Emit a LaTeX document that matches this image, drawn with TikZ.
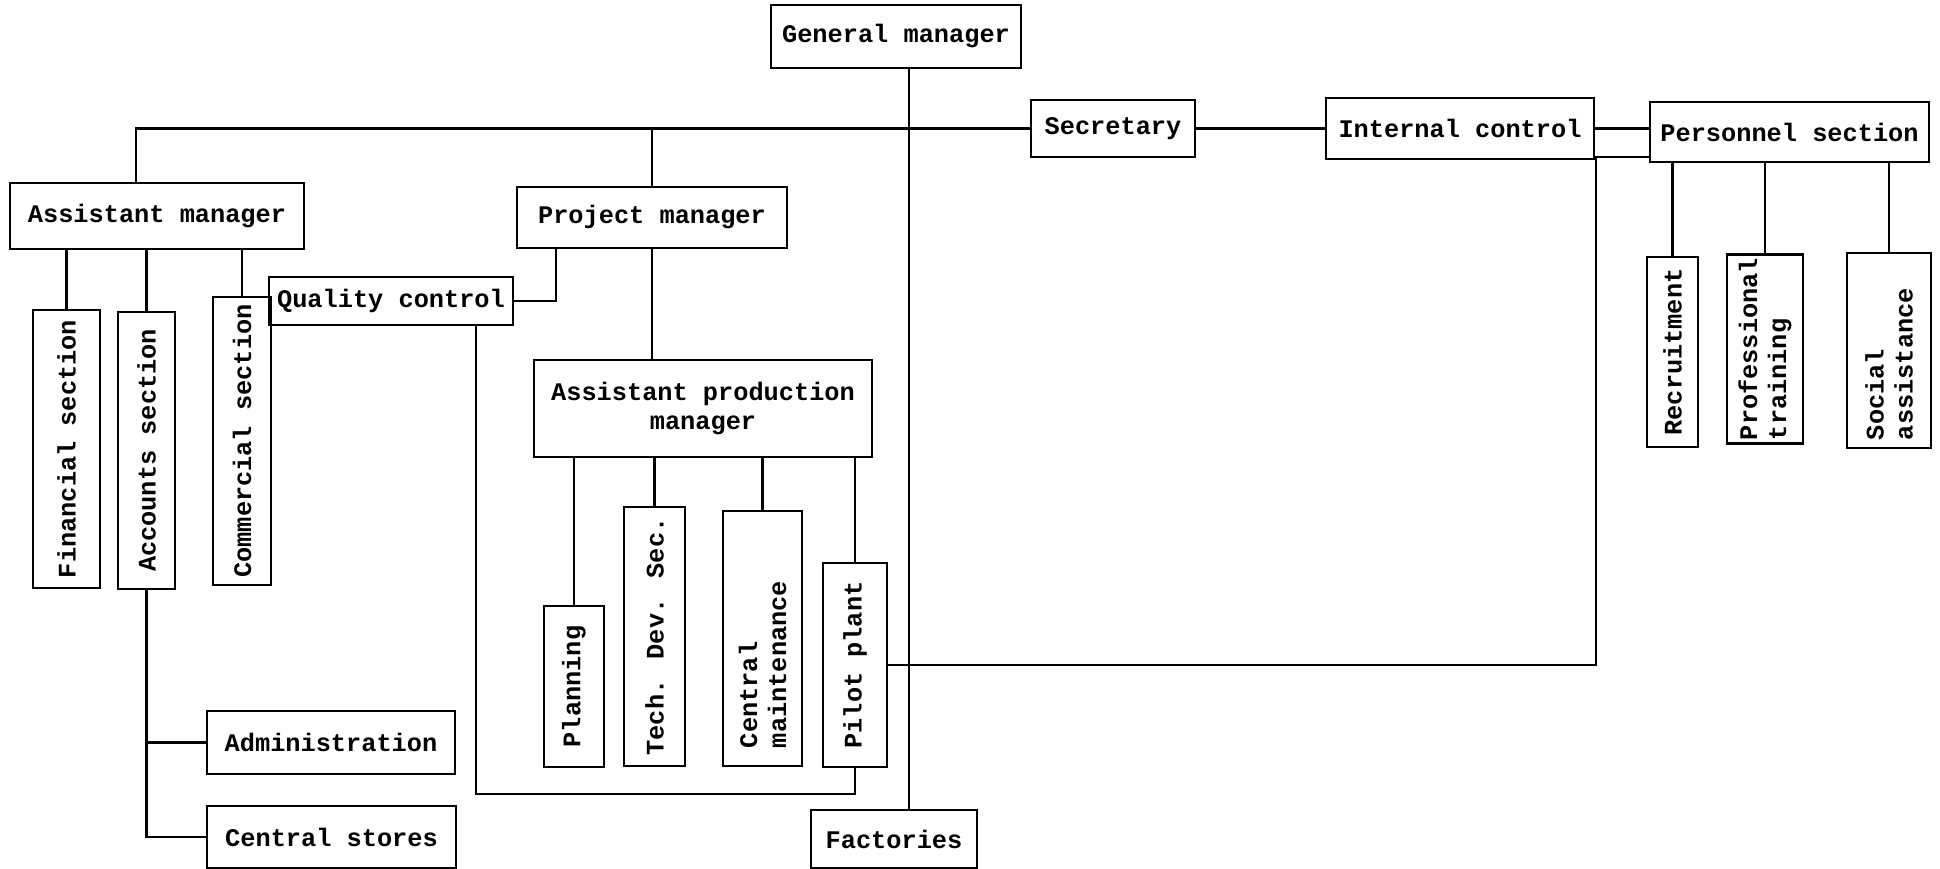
\documentclass[tikz,border=0pt]{standalone}
\usepackage{fontspec}
\newfontfamily\typefont{Liberation Mono}
\usetikzlibrary{calc}

\begin{document}
\begin{tikzpicture}[x=0.2mm, y=-0.2mm, line width=1.3pt,
  box/.style={draw, inner sep=2pt, font={\fontsize{14.4}{16.5}\typefont\bfseries}},
  vbox/.style={box, rotate=90, align=left}]
  \useasboundingbox (0,0) rectangle (1940,869);

  \node[box, minimum width=50mm, minimum height=12.6mm] (gm) at (896,36.5) {General manager};
  \node[box, minimum width=32.8mm, minimum height=11.4mm] (sec) at (1113,128.5) {Secretary};
  \node[box, minimum width=53.6mm, minimum height=12.2mm] (ic) at (1460,128.5) {Internal control};
  \node[box, minimum width=55.8mm, minimum height=12mm] (ps) at (1789.5,132) {Personnel section};
  \node[box, minimum width=58.8mm, minimum height=13.2mm] (am) at (157,216) {Assistant manager};
  \node[box, minimum width=54mm, minimum height=12.2mm] (pm) at (652,217.5) {Project manager};
  \node[box, minimum width=48.8mm, minimum height=9.6mm] (qc) at (391,301) {Quality control};
  \node[box, align=center, minimum width=67.6mm, minimum height=19.4mm] (apm) at (703,408.5) {Assistant production\\manager};
  \node[box, minimum width=49.6mm, minimum height=12.6mm] (adm) at (331,742.5) {Administration};
  \node[box, minimum width=49.8mm, minimum height=12.4mm] (cs) at (331.5,837) {Central stores};
  \node[box, minimum width=33.2mm, minimum height=11.6mm] (fac) at (894,839) {Factories};

  \node[vbox, minimum width=55.6mm, minimum height=13.4mm] (fin) at (66.5,449) {Financial section};
  \node[vbox, minimum width=55.4mm, minimum height=11.4mm] (acc) at (146.5,450.5) {Accounts section};
  \node[vbox, minimum width=57.6mm, minimum height=11.6mm] (com) at (242,441) {Commercial section};
  \node[vbox, minimum width=32.2mm, minimum height=12mm] (pln) at (574,686.5) {Planning};
  \node[vbox, minimum width=51.8mm, minimum height=12.2mm] (tds) at (654.5,636.5) {Tech. Dev. Sec.};
  \node[vbox, inner xsep=3.6mm, text width=43.8mm, minimum width=51mm, minimum height=15.8mm] (cm) at (762.5,638.5) {Central\\maintenance};
  \node[vbox, minimum width=40.8mm, minimum height=12.8mm] (pp) at (855,665) {Pilot plant};
  \node[vbox, minimum width=38mm, minimum height=10.2mm] (rec) at (1672.5,352) {Recruitment};
  \node[vbox, minimum width=37.6mm, minimum height=15.2mm] (pt) at (1765,349) {Professional\\training};
  \node[vbox, inner xsep=1.6mm, text width=35.8mm, minimum width=39mm, minimum height=16.8mm] (sa) at (1889,350.5) {Social\\assistance};

  \coordinate (spine) at (909,0);
  \draw (spine |- gm.south) -- (spine |- fac.north);
  \draw ([xshift=-4.2mm]am.north) |- (sec.west);
  \draw (pm.north) -- (pm.north |- sec.west);
  \draw (sec.east) -- (ic.west);
  \draw (ic.east) -- (ic.east -| ps.west);

  \draw (fin.east |- am.south) -- (fin.east);
  \draw (acc.east |- am.south) -- (acc.east);
  \draw (com.east |- am.south) -- (com.east);
  \draw (acc.west) |- (cs.west);
  \draw (acc.west |- adm.west) -- (adm.west);

  \draw ([xshift=8mm]pm.south west) |- (qc.east);
  \draw (pm.south) -- (pm.south |- apm.north);
  \draw (pln.east |- apm.south) -- (pln.east);
  \draw (tds.east |- apm.south) -- (tds.east);
  \draw (cm.east |- apm.south) -- (cm.east);
  \draw (pp.east |- apm.south) -- (pp.east);
  \draw ([xshift=-7.6mm]qc.south east) |- ([yshift=-5.2mm]pp.west) -- (pp.west);
  \draw (pp.south) -| ($(ps.south west)+(-53,-6)$) -- ($(ps.south west)+(0,-6)$);

  \draw (rec.east |- ps.south) -- (rec.east);
  \draw (pt.east |- ps.south) -- (pt.east);
  \draw (sa.east |- ps.south) -- (sa.east);
\end{tikzpicture}
\end{document}
